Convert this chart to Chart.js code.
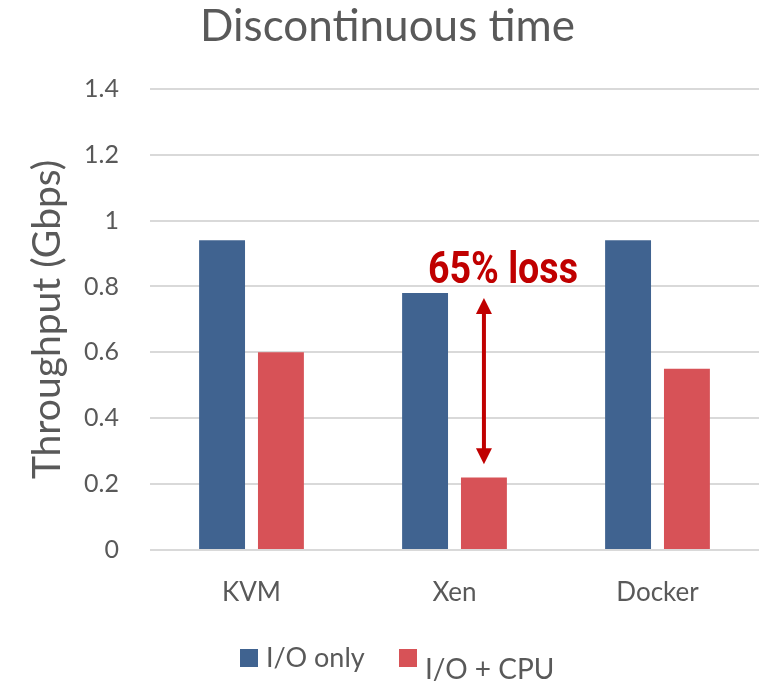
<!DOCTYPE html>
<html>
<head>
<meta charset="utf-8">
<script src="https://cdn.jsdelivr.net/npm/chart.js@4.4.1/dist/chart.umd.min.js"></script>
<style>
  html, body { margin: 0; padding: 0; background: #ffffff; }
  #wrap { width: 775px; height: 687px; position: relative; }
</style>
</head>
<body>
<div id="wrap"><canvas id="chart" width="775" height="687"></canvas></div>
<script>
// Throughput under discontinuous time slices, per virtualisation platform
const categories = ['KVM', 'Xen', 'Docker'];
const ioOnly = [0.94, 0.78, 0.94];
const ioCpu = [0.60, 0.22, 0.55];
const yTicks = [0, 0.2, 0.4, 0.6, 0.8, 1, 1.2, 1.4];
const seriesNames = ['I/O only', 'I/O + CPU'];
const lossLabel = '65% loss';
const lossArrow = { category: 'Xen', from: 0.765, to: 0.26 };

const TEXT = '#595959';
const BLUE = '#406390';
const RED = '#d75257';
const DARK_RED = '#c00000';
const FONT = 'Lato, "Open Sans", sans-serif';

// Arrow with "65% loss" caption over the Xen pair
const lossPlugin = {
  id: 'lossArrow',
  afterDatasetsDraw(chart) {
    const { ctx, scales } = chart;
    const meta = chart.getDatasetMeta(1);
    const idx = categories.indexOf(lossArrow.category);
    const x = meta.data[idx].x;
    const yTop = scales.y.getPixelForValue(lossArrow.from);
    const yBot = scales.y.getPixelForValue(lossArrow.to);
    const head = 16, half = 8;
    ctx.save();
    ctx.strokeStyle = DARK_RED;
    ctx.fillStyle = DARK_RED;
    ctx.lineWidth = 4;
    ctx.beginPath();
    ctx.moveTo(x, yTop + head - 2);
    ctx.lineTo(x, yBot - head + 2);
    ctx.stroke();
    ctx.beginPath();
    ctx.moveTo(x, yTop);
    ctx.lineTo(x - half, yTop + head);
    ctx.lineTo(x + half, yTop + head);
    ctx.closePath();
    ctx.fill();
    ctx.beginPath();
    ctx.moveTo(x, yBot);
    ctx.lineTo(x - half, yBot - head);
    ctx.lineTo(x + half, yBot - head);
    ctx.closePath();
    ctx.fill();

    // condensed bold caption
    ctx.font = 'bold 44px Roboto, sans-serif';
    ctx.textBaseline = 'alphabetic';
    ctx.textAlign = 'center';
    const w = ctx.measureText(lossLabel).width;
    const sx = 150 / w;
    ctx.translate(x + 19, yTop - 15);
    ctx.scale(sx, 1);
    ctx.fillText(lossLabel, 0, 0);
    ctx.restore();
  }
};

// Legend under the axis, with square swatches
const legendPlugin = {
  id: 'squareLegend',
  afterDraw(chart) {
    const { ctx } = chart;
    const items = [
      { label: seriesNames[0], color: BLUE, x: 240, textDy: 0, size: 27 },
      { label: seriesNames[1], color: RED, x: 399, textDy: 12, size: 28 }
    ];
    ctx.save();
    ctx.textBaseline = 'middle';
    ctx.textAlign = 'left';
    items.forEach(it => {
      ctx.fillStyle = it.color;
      ctx.fillRect(it.x, 649, 18, 18);
      ctx.font = it.size + 'px ' + FONT;
      ctx.fillStyle = TEXT;
      ctx.fillText(it.label, it.x + 26, 658 + it.textDy);
    });
    ctx.restore();
  }
};

new Chart(document.getElementById('chart'), {
  type: 'bar',
  data: {
    labels: categories,
    datasets: [
      { label: seriesNames[0], data: ioOnly, backgroundColor: BLUE },
      { label: seriesNames[1], data: ioCpu, backgroundColor: RED }
    ]
  },
  options: {
    responsive: false,
    animation: false,
    events: [],
    datasets: { bar: { categoryPercentage: 0.58, barPercentage: 0.78 } },
    layout: { padding: { top: 0, left: 16, right: 16, bottom: 77 } },
    plugins: {
      legend: { display: false },
      tooltip: { enabled: false },
      title: {
        display: true,
        text: 'Discontinuous time',
        color: TEXT,
        font: { family: FONT, size: 44, weight: 'normal' },
        padding: { top: 0, bottom: 36 }
      }
    },
    scales: {
      x: {
        grid: { display: false, drawTicks: false },
        border: { display: false },
        ticks: { color: TEXT, font: { family: FONT, size: 26 }, padding: 27 },
        afterFit(scale) { scale.height = 60; }
      },
      y: {
        min: 0,
        max: 1.4,
        afterBuildTicks(scale) { scale.ticks = yTicks.map(v => ({ value: v })); },
        grid: { color: '#d9d9d9', lineWidth: 2, drawTicks: false },
        border: { display: false },
        ticks: {
          color: TEXT,
          font: { family: FONT, size: 25 },
          padding: 31,
          callback: v => String(Math.round(v * 10) / 10)
        },
        title: {
          display: true,
          text: 'Throughput (Gbps)',
          color: TEXT,
          font: { family: FONT, size: 39, weight: 'normal' },
          padding: { top: 8, bottom: 0 }
        },
        afterFit(scale) { scale.width = 134; }
      }
    }
  },
  plugins: [lossPlugin, legendPlugin]
});
</script>
</body>
</html>
